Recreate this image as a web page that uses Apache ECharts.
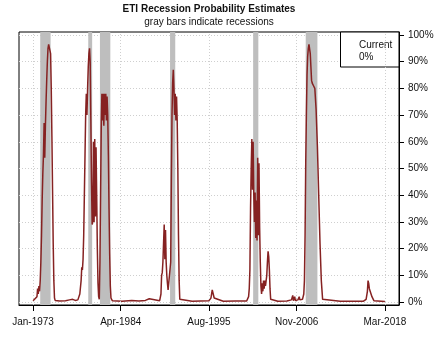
<!DOCTYPE html>
<html>
<head>
<meta charset="utf-8">
<script src="https://cdn.jsdelivr.net/npm/echarts@6/dist/echarts.min.js"></script>
<style>
  html, body { margin: 0; padding: 0; background: #fff; }
  #chart { width: 446px; height: 347px; }
</style>
</head>
<body>
<div id="chart"></div>
<script>
// Monthly ETI recession probability (%), grouped by decade
const months1970s = ['1973-01','1973-04','1973-07','1973-08','1973-09','1973-10','1973-11','1973-12',
  '1974-01','1974-02','1974-03','1974-04','1974-05','1974-06','1974-07','1974-08','1974-09','1974-10','1974-11','1974-12',
  '1975-01','1975-02','1975-03','1975-04','1975-05','1975-06','1975-07','1975-08','1975-09','1975-10','1975-11',
  '1976-06','1977-03','1977-09','1978-02','1978-06','1978-10',
  '1979-01','1979-03','1979-04','1979-05','1979-06','1979-07','1979-08','1979-09','1979-10','1979-11','1979-12'];
const prob1970s = [0.5,1,2,5,3,6,4,8,
  15,25,38,48,55,67,54,66,75,83,90,95,
  96.5,96,96,93,80,62,42,22,8,1.5,0.6,
  0.4,0.5,0.8,1,0.6,0.8,
  3,8,13,12,16,25,40,55,70,78,70];

const months1980s = ['1980-01','1980-02','1980-03','1980-04','1980-05','1980-06','1980-07','1980-08','1980-09','1980-10','1980-11','1980-12',
  '1981-01','1981-02','1981-03','1981-04','1981-05','1981-06','1981-07','1981-08','1981-09','1981-10','1981-11','1981-12',
  '1982-01','1982-02','1982-03','1982-04','1982-05','1982-06','1982-07','1982-08','1982-09','1982-10','1982-11','1982-12',
  '1983-01','1983-03','1984-06','1985-09','1986-08','1987-06','1987-12','1988-03',
  '1989-04','1989-06','1989-07','1989-08','1989-09','1989-10','1989-11','1989-12'];
const prob1980s = [80,88,93,95,90,68,45,29,30,60,30,61,
  32,58,40,20,7,2,1,15,40,65,78,68,
  78,66,78,70,78,68,77,70,55,35,18,6,
  1.5,0.5,0.3,0.6,0.4,0.6,1.2,0.5,
  0.5,3,10,11,15,22,29,16];

const months1990s = ['1990-01','1990-02','1990-03','1990-04','1990-05','1990-06','1990-07','1990-08','1990-09','1990-10','1990-11','1990-12',
  '1991-01','1991-02','1991-03','1991-04','1991-05','1991-06','1991-07','1991-08','1991-09','1991-10','1991-11','1991-12',
  '1993-06','1995-08','1995-11','1996-01','1996-02','1996-04','1996-07','1997-06','1999-01'];
const prob1990s = [27,15,10,7,4.5,5,4,4,15,45,70,82,
  87,80,70,78,68,77,68,50,25,8,1,0.5,
  0.3,0.5,1.5,4.5,4,1.5,0.8,0.3,0.4];

const months2000s = ['2000-06','2000-09','2000-10','2000-11','2000-12',
  '2001-01','2001-02','2001-03','2001-04','2001-05','2001-06','2001-07','2001-08','2001-09','2001-10','2001-11','2001-12',
  '2002-01','2002-02','2002-03','2002-04','2002-05','2002-06','2002-07','2002-08','2002-09','2002-10','2002-11',
  '2003-01','2003-02','2003-03','2003-04','2003-05','2003-06','2003-07','2003-09',
  '2004-06','2005-08','2006-03','2006-05','2006-06','2006-08','2006-09',
  '2007-01','2007-03','2007-04','2007-06','2007-08','2007-10','2007-11','2007-12',
  '2008-01','2008-02','2008-03','2008-04','2008-05','2008-06','2008-07','2008-08','2008-09','2008-10','2008-11','2008-12',
  '2009-01','2009-03','2009-05','2009-07','2009-09','2009-11'];
const prob2000s = [0.4,2,5,12,35,
  50,61,42,60,40,30,41,24,38,23,54,25,
  52,28,15,6,3,7,4,8,5,8,6,
  10,15,19,17,12,5,1,0.5,
  0.3,0.4,0.8,2.5,0.5,2,0.6,
  0.8,2,0.8,1.5,1,3,8,25,
  52,70,85,92,95,96.5,96,93,88,83,82,82,
  81,80,72,58,40,22];

const months2010s = ['2010-01','2010-03','2010-05','2012-06','2014-06','2015-06','2015-10','2015-12',
  '2016-01','2016-02','2016-03','2016-05','2016-07','2016-10','2018-03'];
const prob2010s = [8,1,0.3,0.3,0.3,0.3,1,4,
  8,7,5,4.5,2,0.5,0.2];

// Recessions: first and last month of each contraction
const recessionFirst = ['1973-12','1980-02','1981-08','1990-08','2001-04','2008-01'];
const recessionLast  = ['1975-03','1980-07','1982-11','1991-03','2001-11','2009-06'];

// Axis ticks
const xTickMonths = ['1973-01','1984-04','1995-08','2006-11','2018-03'];
const xTickLabels = ['Jan-1973','Apr-1984','Aug-1995','Nov-2006','Mar-2018'];
const yTicks = [0,10,20,30,40,50,60,70,80,90,100];

function monthIndex(s) {
  const p = s.split('-');
  return (Number(p[0]) - 1973) * 12 + (Number(p[1]) - 1);
}

const allMonths = [].concat(months1970s, months1980s, months1990s, months2000s, months2010s);
const allProb = [].concat(prob1970s, prob1980s, prob1990s, prob2000s, prob2010s);
const lineData = allMonths.map((m, i) => [monthIndex(m), allProb[i]]);

// Plot frame extends 4% beyond the data range horizontally, ~1% vertically
const firstIdx = lineData[0][0];
const lastIdx = lineData[lineData.length - 1][0];
const xPad = (lastIdx - firstIdx) * 0.04;
const yMin = -1.12, yMax = 101.12;

const xTickValues = xTickMonths.map(monthIndex);
const xLabelOf = {};
xTickValues.forEach((v, i) => { xLabelOf[v] = xTickLabels[i]; });

const recessionAreas = recessionFirst.map((m, i) => [
  { xAxis: monthIndex(m) },
  { xAxis: monthIndex(recessionLast[i]) + 1 }
]);

const currentValue = allProb[allProb.length - 1];

const FONT = '"Liberation Sans", Arial, sans-serif';
const dotted = { color: '#cfcfcf', width: 1, type: [1, 2] };

const chart = echarts.init(document.getElementById('chart'));
chart.setOption({
  animation: false,
  backgroundColor: '#ffffff',
  grid: {
    left: 19, right: 47, top: 32, bottom: 42,
    show: true, borderColor: '#000', borderWidth: 1, backgroundColor: 'transparent'
  },
  xAxis: {
    type: 'value',
    min: firstIdx - xPad,
    max: lastIdx + xPad,
    axisLine: { show: true, onZero: false, lineStyle: { color: '#000', width: 1 } },
    axisTick: { show: true, length: 6, lineStyle: { color: '#000' }, customValues: xTickValues },
    axisLabel: {
      customValues: xTickValues,
      formatter: v => xLabelOf[v] || '',
      color: '#111', fontFamily: FONT, fontSize: 10, margin: 12
    },
    splitLine: { show: false }
  },
  yAxis: {
    type: 'value',
    position: 'right',
    min: yMin,
    max: yMax,
    axisLine: { show: true, onZero: false, lineStyle: { color: '#000', width: 1 } },
    axisTick: { show: true, length: 5, lineStyle: { color: '#000' }, customValues: yTicks },
    axisLabel: {
      customValues: yTicks,
      formatter: v => v + '%',
      color: '#111', fontFamily: FONT, fontSize: 10, margin: 9
    },
    splitLine: { show: true, lineStyle: dotted }
  },
  series: [
    {
      name: 'Recessions',
      type: 'line',
      data: [],
      silent: true,
      z: 1,
      markArea: {
        silent: true,
        itemStyle: { color: '#bebebe', opacity: 1 },
        data: recessionAreas
      },
      // vertical grid lines at the labelled dates
      markLine: {
        silent: true,
        symbol: 'none',
        label: { show: false },
        lineStyle: dotted,
        emphasis: { disabled: true },
        data: xTickValues.map(v => ({ xAxis: v }))
      }
    },
    {
      name: 'Recession probability',
      type: 'line',
      data: lineData,
      showSymbol: false,
      z: 3,
      lineStyle: { color: '#862222', width: 1.5 },
      itemStyle: { color: '#862222' }
    }
  ]
});

// Title, subtitle and current-value box, placed relative to the plot frame
const frameLeft = chart.convertToPixel({ gridIndex: 0 }, [firstIdx - xPad, 0])[0];
const frameRight = chart.convertToPixel({ gridIndex: 0 }, [lastIdx + xPad, 0])[0];
const frameTop = chart.convertToPixel({ gridIndex: 0 }, [0, yMax])[1];
const centerX = (frameLeft + frameRight) / 2;

chart.setOption({
  graphic: [
    {
      type: 'group', z: 10,
      children: [
        { type: 'text', style: { x: centerX, y: 9, text: 'ETI Recession Probability Estimates',
            align: 'center', verticalAlign: 'middle', font: 'bold 10px ' + FONT, fill: '#111' } },
        { type: 'text', style: { x: centerX, y: 22, text: 'gray bars indicate recessions',
            align: 'center', verticalAlign: 'middle', font: '10px ' + FONT, fill: '#111' } },
        { type: 'rect', shape: { x: frameRight - 58.5, y: frameTop, width: 58.5, height: 35 },
          style: { fill: '#fff', stroke: '#000', lineWidth: 1 } },
        { type: 'text', style: { x: frameRight - 40, y: 45, text: 'Current',
            align: 'left', verticalAlign: 'middle', font: '10px ' + FONT, fill: '#111' } },
        { type: 'text', style: { x: frameRight - 40, y: 57, text: Math.round(currentValue) + '%',
            align: 'left', verticalAlign: 'middle', font: '10px ' + FONT, fill: '#111' } }
      ]
    }
  ]
});
</script>
</body>
</html>
